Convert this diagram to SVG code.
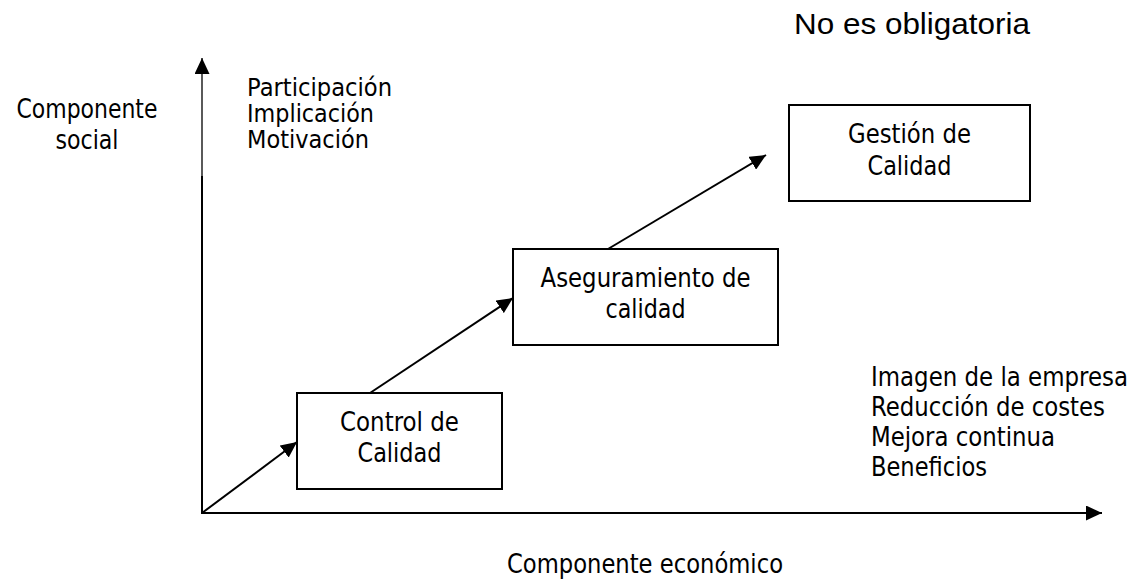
<svg xmlns="http://www.w3.org/2000/svg" width="1139" height="581" viewBox="0 0 1139 581">
  <style>
    .t { font-family: "DejaVu Sans", Verdana, sans-serif; font-size: 26px; fill: #000; }
    .s { font-family: "DejaVu Sans", Verdana, sans-serif; font-size: 24px; fill: #000; }
    .a { font-family: "Liberation Sans", Arial, sans-serif; font-size: 30px; fill: #000; }
    .box { fill: #fff; stroke: #000; stroke-width: 2; }
    .ln { stroke: #000; stroke-width: 2; fill: none; }
    .thin { stroke: #000; stroke-width: 1.3; fill: none; }
  </style>
  <defs>
    <marker id="arrow" viewBox="0 0 16 15" refX="16" refY="7.5" markerWidth="16" markerHeight="15" markerUnits="userSpaceOnUse" orient="auto">
      <path d="M0,0 L16,7.5 L0,15 z" fill="#000"/>
    </marker>
  </defs>

  <g id="title">
    <text class="a" x="794" y="34" textLength="236" lengthAdjust="spacingAndGlyphs">No es obligatoria</text>
  </g>

  <g id="connectors">
    <line class="thin" x1="202" y1="178" x2="202" y2="58" marker-end="url(#arrow)"/>
    <line class="ln" x1="202" y1="514" x2="202" y2="176"/>
    <line class="ln" x1="201" y1="513" x2="1102" y2="513" marker-end="url(#arrow)"/>
    <line class="ln" x1="202" y1="513" x2="297" y2="442" marker-end="url(#arrow)"/>
    <line class="ln" x1="370" y1="393" x2="513" y2="298" marker-end="url(#arrow)"/>
    <line class="ln" x1="608" y1="249" x2="766" y2="155" marker-end="url(#arrow)"/>
  </g>

  <g id="label-social">
    <text class="t" x="87" y="118" text-anchor="middle" textLength="141" lengthAdjust="spacingAndGlyphs">Componente</text>
    <text class="t" x="87" y="149" text-anchor="middle" textLength="63" lengthAdjust="spacingAndGlyphs">social</text>
  </g>

  <g id="label-social-factors">
    <text class="s" x="247" y="96" textLength="145" lengthAdjust="spacingAndGlyphs">Participación</text>
    <text class="s" x="247" y="122" textLength="127" lengthAdjust="spacingAndGlyphs">Implicación</text>
    <text class="s" x="247" y="148" textLength="122" lengthAdjust="spacingAndGlyphs">Motivación</text>
  </g>

  <g id="node-control">
    <rect class="box" x="297" y="393" width="205" height="96"/>
    <text class="t" x="399.5" y="431" text-anchor="middle" textLength="119" lengthAdjust="spacingAndGlyphs">Control de</text>
    <text class="t" x="399.5" y="462" text-anchor="middle" textLength="84" lengthAdjust="spacingAndGlyphs">Calidad</text>
  </g>

  <g id="node-aseguramiento">
    <rect class="box" x="513" y="249" width="265" height="96"/>
    <text class="t" x="645.5" y="287" text-anchor="middle" textLength="210" lengthAdjust="spacingAndGlyphs">Aseguramiento de</text>
    <text class="t" x="645.5" y="318" text-anchor="middle" textLength="80" lengthAdjust="spacingAndGlyphs">calidad</text>
  </g>

  <g id="node-gestion">
    <rect class="box" x="789" y="105" width="241" height="96"/>
    <text class="t" x="909.5" y="143" text-anchor="middle" textLength="123" lengthAdjust="spacingAndGlyphs">Gestión de</text>
    <text class="t" x="909.5" y="175" text-anchor="middle" textLength="84" lengthAdjust="spacingAndGlyphs">Calidad</text>
  </g>

  <g id="label-economic-factors">
    <text class="t" x="871" y="386" textLength="257" lengthAdjust="spacingAndGlyphs">Imagen de la empresa</text>
    <text class="t" x="871" y="416" textLength="234" lengthAdjust="spacingAndGlyphs">Reducción de costes</text>
    <text class="t" x="871" y="446" textLength="184" lengthAdjust="spacingAndGlyphs">Mejora continua</text>
    <text class="t" x="871" y="476" textLength="116" lengthAdjust="spacingAndGlyphs">Beneficios</text>
  </g>

  <g id="label-economic">
    <text class="t" x="507" y="573" textLength="276" lengthAdjust="spacingAndGlyphs">Componente económico</text>
  </g>
</svg>
